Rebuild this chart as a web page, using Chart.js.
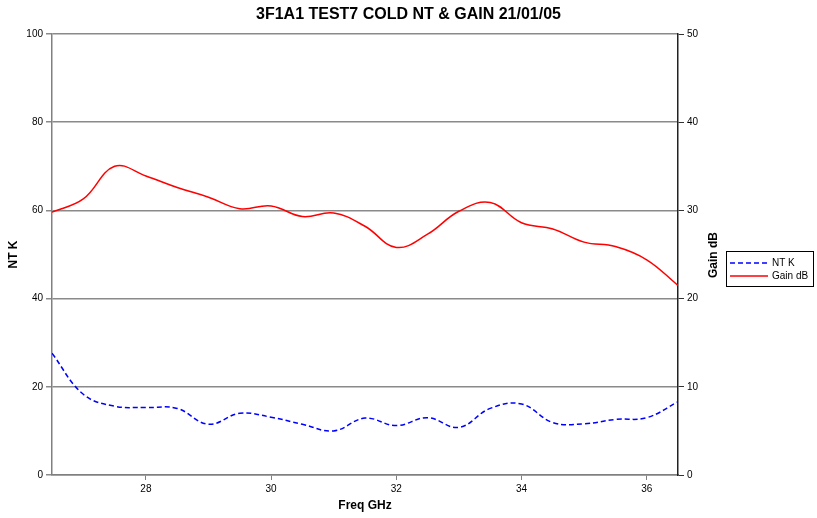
<!DOCTYPE html>
<html><head><meta charset="utf-8">
<script src="https://cdn.jsdelivr.net/npm/chart.js@4/dist/chart.umd.min.js"></script>
<style>html,body{margin:0;padding:0;background:#fff}</style>
</head><body>
<canvas id="c" width="817" height="518"></canvas>
<script>
const chartTitle = '3F1A1 TEST7 COLD NT & GAIN 21/01/05';
const rightAxisTitle = 'Gain dB';
const freqs = [26.5, 27, 27.5, 28, 28.5, 29, 29.5, 30, 30.5, 31, 31.5, 32, 32.5, 33, 33.5, 34, 34.5, 35, 35.5, 36, 36.5];
const ntK = [27.6, 18.3, 15.6, 15.3, 15.1, 11.5, 14.0, 13.1, 11.5, 10.0, 12.9, 11.2, 13.0, 10.8, 15.1, 16.1, 11.9, 11.6, 12.6, 13.0, 16.6];
const gainDb = [29.8, 31.3, 35.0, 33.9, 32.6, 31.5, 30.2, 30.5, 29.3, 29.7, 28.2, 25.8, 27.3, 29.9, 30.9, 28.6, 27.9, 26.4, 25.9, 24.4, 21.5];
const xTicks = [28, 30, 32, 34, 36];
const leftTicks = [0, 20, 40, 60, 80, 100];
const rightTicks = [0, 10, 20, 30, 40, 50];

const FONT = "'Liberation Sans', Arial, sans-serif";

const extras = {
  id: 'extras',
  afterDraw(chart) {
    const ctx = chart.ctx;
    ctx.save();
    ctx.fillStyle = '#000';
    ctx.font = 'bold 16px ' + FONT;
    ctx.textAlign = 'center';
    ctx.textBaseline = 'middle';
    ctx.fillText(chartTitle, 408.5, 15);
    // right axis title, reading bottom to top
    ctx.save();
    ctx.translate(714, 255);
    ctx.rotate(-Math.PI / 2);
    ctx.font = 'bold 12px ' + FONT;
    ctx.fillText(rightAxisTitle, 0, 0);
    ctx.restore();
    // legend
    ctx.strokeStyle = '#000';
    ctx.lineWidth = 1;
    ctx.strokeRect(726.5, 251.5, 87, 35);
    ctx.font = '10px ' + FONT;
    ctx.textAlign = 'left';
    const rows = [263, 276];
    chart.data.datasets.forEach((ds, i) => {
      ctx.beginPath();
      ctx.setLineDash(ds.borderDash || []);
      ctx.strokeStyle = ds.borderColor;
      ctx.lineWidth = 1.5;
      ctx.moveTo(730, rows[i]);
      ctx.lineTo(768, rows[i]);
      ctx.stroke();
      ctx.setLineDash([]);
      ctx.fillStyle = '#000';
      ctx.fillText(ds.label, 772, rows[i]);
    });
    ctx.restore();
  }
};

new Chart(document.getElementById('c'), {
  type: 'line',
  data: {
    datasets: [
      {
        label: 'NT K',
        data: freqs.map((f, i) => ({x: f, y: ntK[i]})),
        borderColor: '#0000ff',
        borderWidth: 1.5,
        borderDash: [5, 3],
        pointRadius: 0,
        tension: 0.4,
        yAxisID: 'y'
      },
      {
        label: 'Gain dB',
        data: freqs.map((f, i) => ({x: f, y: gainDb[i]})),
        borderColor: '#ff0000',
        borderWidth: 1.5,
        pointRadius: 0,
        tension: 0.4,
        yAxisID: 'y1'
      }
    ]
  },
  options: {
    responsive: false,
    animation: false,
    layout: {padding: {top: 34, right: 92, bottom: 0, left: 0}},
    plugins: {legend: {display: false}, title: {display: false}, tooltip: {enabled: false}},
    scales: {
      x: {
        type: 'linear',
        min: 26.5, max: 36.5,
        afterBuildTicks: s => { s.ticks = xTicks.map(v => ({value: v})); },
        afterFit: s => { s.height = 43; },
        grid: {drawOnChartArea: false, drawTicks: true, tickLength: 5, color: '#808080', lineWidth: 1},
        border: {color: '#808080', width: 1.5},
        ticks: {font: {size: 10, family: FONT}, color: '#000', padding: 3, maxRotation: 0, autoSkip: false},
        title: {display: true, text: 'Freq GHz', color: '#000', font: {size: 12, weight: 'bold', family: FONT}, padding: {top: 0, bottom: 5}}
      },
      y: {
        position: 'left',
        min: 0, max: 100,
        afterBuildTicks: s => { s.ticks = leftTicks.map(v => ({value: v})); },
        afterFit: s => { s.width = 52; },
        grid: {color: '#8a8a8a', lineWidth: 1.5, tickLength: 6},
        border: {color: '#808080', width: 1.5},
        ticks: {font: {size: 10, family: FONT}, color: '#000', padding: 3},
        title: {display: true, text: 'NT K', color: '#000', font: {size: 12, weight: 'bold', family: FONT}, padding: {top: 6, bottom: 0}}
      },
      y1: {
        position: 'right',
        min: 0, max: 50,
        afterBuildTicks: s => { s.ticks = rightTicks.map(v => ({value: v})); },
        afterFit: s => { s.width = 47; },
        grid: {drawOnChartArea: false, color: '#333', lineWidth: 1, tickLength: 6},
        border: {color: '#222', width: 1.5},
        ticks: {font: {size: 10, family: FONT}, color: '#000', padding: 3},
        title: {display: false}
      }
    }
  },
  plugins: [extras]
});
</script>
</body></html>
